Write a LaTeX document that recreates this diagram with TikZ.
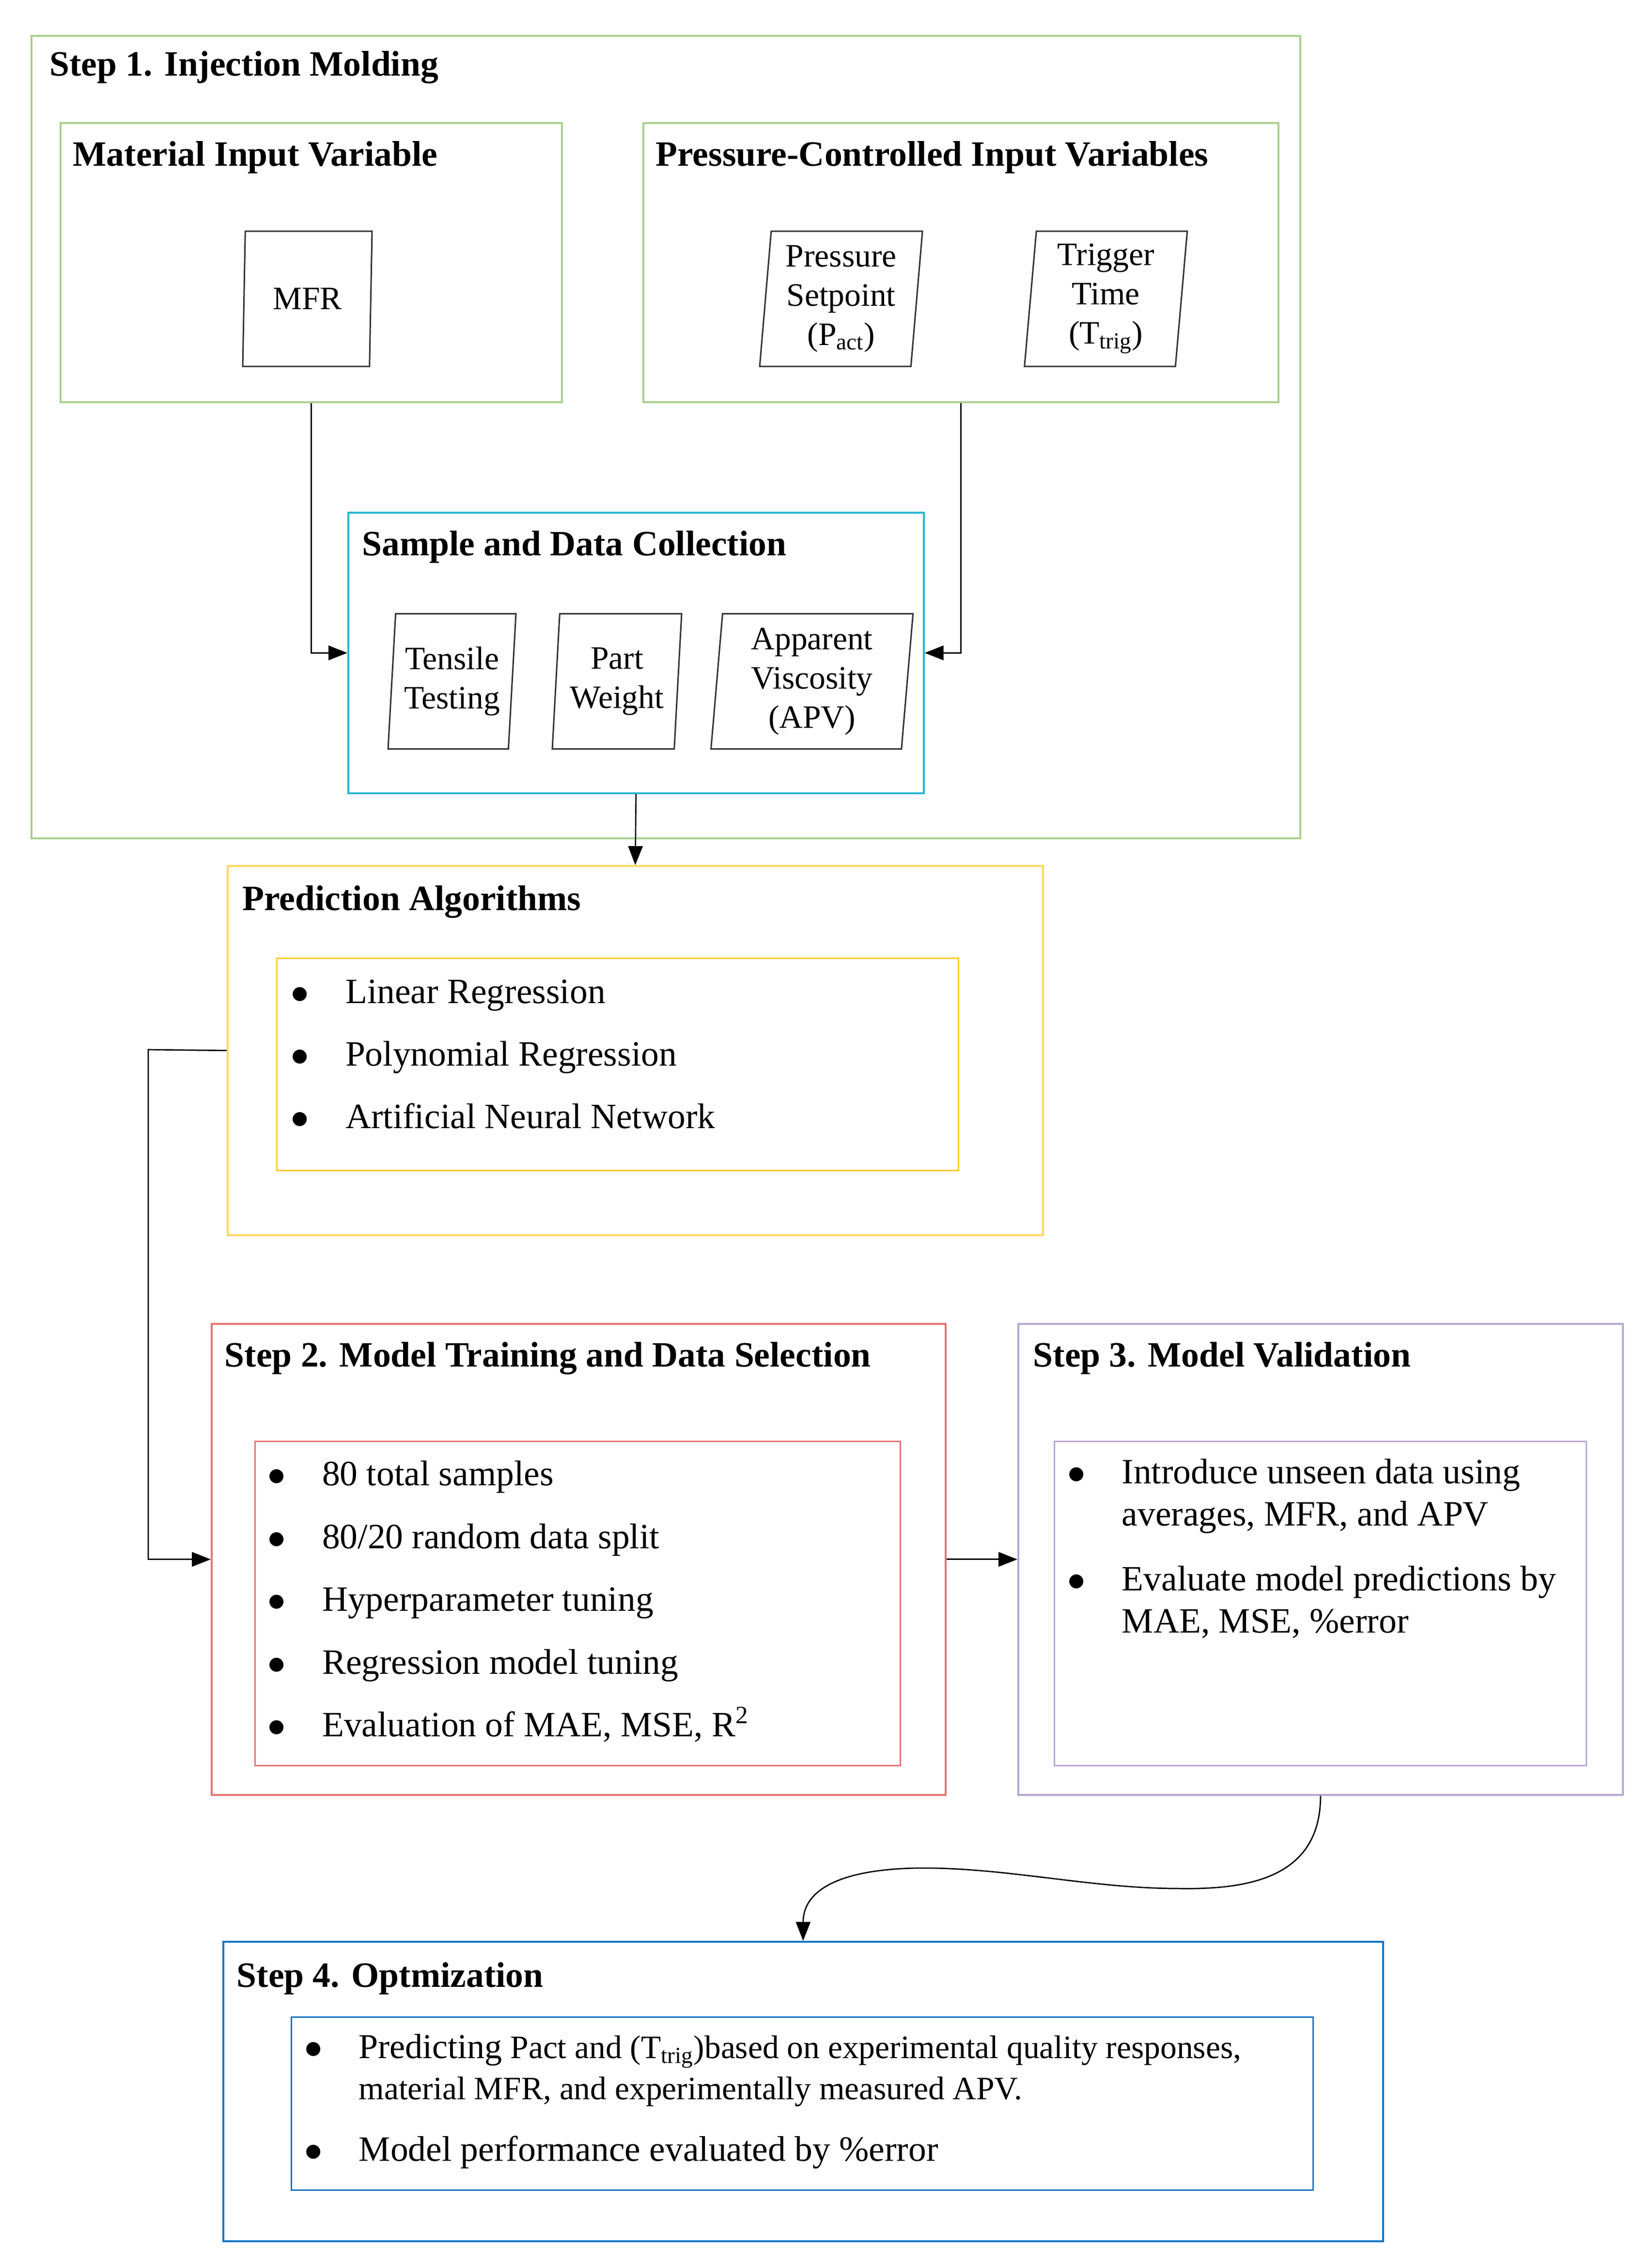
\documentclass[tikz,border=0pt]{standalone}
\usepackage{fontspec}
\setmainfont{Liberation Serif}
\usetikzlibrary{%
  arrows.meta,% Triangle tips
  shapes.geometric,% trapezium for the data boxes
  positioning%
}

\definecolor{stepgreen}{RGB}{169,208,142}
\definecolor{samplecyan}{RGB}{40,182,210}
\definecolor{predyellow}{RGB}{255,200,40}
\definecolor{trainred}{RGB}{230,115,115}
\definecolor{validpurple}{RGB}{185,165,210}
\definecolor{optblue}{RGB}{20,118,198}

\newcommand{\titlefont}{\fontsize{24.5}{29}\selectfont\bfseries}
\newcommand{\itemfont}{\fontsize{24.5}{29}\selectfont}
\newcommand{\parafont}{\fontsize{22.5}{27}\selectfont}
\newcommand{\smallitemfont}{\fontsize{22.5}{28.6}\selectfont}
\newcommand{\bulletitem}[1]{\begin{tabular}[t]{@{}l@{}l@{}}\makebox[37.5pt][l]{\fontsize{24.5}{29}\selectfont$\bullet$}&#1\end{tabular}}

\begin{document}
\begin{tikzpicture}[x=1pt,y=-1pt,
    box/.style={draw, line width=1.2pt, anchor=north west, inner sep=0pt},
    title/.style={anchor=base west, inner sep=0pt, font=\titlefont},
    para/.style={draw=black!80, line width=1pt, trapezium, trapezium left angle=84,
      trapezium right angle=96, trapezium stretches body, minimum height=93pt,
      inner sep=1pt, align=center, font=\parafont},
    listitem/.style={anchor=base west, inner sep=0pt, font=\itemfont},
    link/.style={draw=black, line width=0.9pt, -{Triangle[length=13pt,width=10pt]}}]
    \useasboundingbox (0,0) rectangle (1136.67,1558);
    \fill[white] (0,0) rectangle (1136.67,1558);

    %step 1
    \node[box, draw=stepgreen, minimum width=873pt, minimum height=552pt] (step1) at (21,24) {};
    \node[title] (step1title) at (34,52) {Step 1. Injection Molding};
    \node[box, draw=stepgreen, minimum width=345pt, minimum height=192pt] (material) at (41,84) {};
    \node[title] (materialtitle) at (50,114) {Material Input Variable};
    \node[box, draw=stepgreen, minimum width=437pt, minimum height=192pt] (pressure) at (442,84) {};
    \node[title] (pressuretitle) at (451,114) {Pressure-Controlled Input Variables};
    \node[para, minimum width=89pt] (mfr) at (211.5,205.5) {MFR};
    \node[para, minimum width=112pt] (pset) at (578.7,205.5) {Pressure\\Setpoint\\(P\textsubscript{act})};
    \node[para, minimum width=112pt] (ttrig) at (760.9,205.5) {Trigger\\Time\\(T\textsubscript{trig})};

    %samples
    \node[box, draw=samplecyan, minimum width=396pt, minimum height=193pt] (sample) at (239,352) {};
    \node[title] (sampletitle) at (249,382) {Sample and Data Collection};
    \node[para, minimum width=88pt] (tensile) at (311,468.7) {Tensile\\Testing};
    \node[para, minimum width=89pt] (weight) at (424.5,468.7) {Part\\Weight};
    \node[para, minimum width=139pt] (apv) at (558.7,468.7) {Apparent\\Viscosity\\(APV)};

    %prediction
    \node[box, draw=predyellow!75, minimum width=561pt, minimum height=254pt] (predict) at (156,595) {};
    \node[title] (predicttitle) at (166.7,626) {Prediction Algorithms};
    \node[box, draw=predyellow, line width=1pt, minimum width=469pt, minimum height=146pt] (algos) at (190,658.5) {};
    \foreach \alg [count=\i] in {Linear Regression, Polynomial Regression, Artificial Neural Network}
      \node[listitem] (alg\i) at (200,690+43*\i-43) {\bulletitem{\alg}};

    %step 2
    \node[box, draw=trainred, minimum width=505pt, minimum height=324pt] (step2) at (145,910) {};
    \node[title] (step2title) at (154.4,940) {Step 2. Model Training and Data Selection};
    \node[box, draw=trainred, line width=1pt, minimum width=444pt, minimum height=223pt] (training) at (175,991) {};
    \foreach \task [count=\i] in {80 total samples, 80/20 random data split, Hyperparameter tuning,
        Regression model tuning, {Evaluation of MAE, MSE, R\textsuperscript{2}}}
      \node[listitem] (task\i) at (184,1021.8+43.2*\i-43.2) {\bulletitem{\task}};

    %step 3
    \node[box, draw=validpurple, minimum width=416pt, minimum height=324pt] (step3) at (700,910) {};
    \node[title] (step3title) at (710.7,940) {Step 3. Model Validation};
    \node[box, draw=validpurple, line width=1pt, minimum width=366pt, minimum height=223pt] (validation) at (725,991) {};
    \node[listitem] (unseen) at (734.2,1020.5) {\bulletitem{Introduce unseen data using\\&averages, MFR, and APV}};
    \node[listitem] (evaluate) at (734.2,1094) {\bulletitem{Evaluate model predictions by\\&MAE, MSE, \%error}};

    %step 4
    \node[box, draw=optblue, minimum width=798pt, minimum height=206pt] (step4) at (153,1335) {};
    \node[title] (step4title) at (162.7,1366.7) {Step 4. Optmization};
    \node[box, draw=optblue, line width=1pt, minimum width=703pt, minimum height=119pt] (optimize) at (200,1387) {};
    \node[listitem, font=\smallitemfont] (predicting) at (209.2,1415.7) {\bulletitem{{\fontsize{24}{28.6}\selectfont Predicting} Pact and (T\textsubscript{trig})based on experimental quality responses,\\&material MFR, and experimentally measured APV.}};
    \node[listitem] (performance) at (209.2,1486.6) {\bulletitem{Model performance evaluated by \%error}};

    %connections
    \coordinate (elbow) at (102,722);
    \coordinate (dip) at (810,1299);
    \coordinate (crest) at (630,1285);
    \path[link] (material.south) |- (sample.west);
    \path[link] (pressure.south) |- (sample.east);
    \path[link] (sample.south) -- (predict.north);
    \path[link] (predict.west) -- (elbow) |- (step2.west);
    \path[link] (step2.east) -- (step3.west);
    \path[link] (step3.south) .. controls +(0,56) and +(50,1) .. (dip)
      .. controls +(-60,0) and +(60,-1) .. (crest)
      .. controls +(-50,1) and +(0,-36) .. (step4.north);
\end{tikzpicture}
\end{document}
